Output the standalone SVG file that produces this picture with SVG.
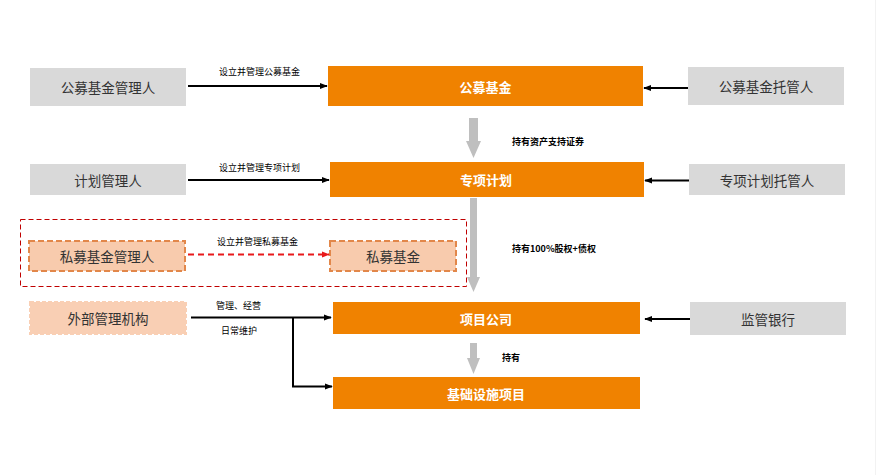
<svg xmlns="http://www.w3.org/2000/svg" width="880" height="475" viewBox="0 0 880 475">
<defs>
<style>
.gray{fill:#D9D9D9}
.org{fill:#F08200}
.peach{fill:#F8CBAD;stroke:#E2874A;stroke-width:2;stroke-dasharray:6 3}
.peach2{fill:#F9CFB4;stroke:#F9CFB4;stroke-width:2;stroke-dasharray:4 2}
.t{font-family:"Noto Sans CJK SC","Noto Sans",sans-serif;font-size:13.5px;fill:#333;text-anchor:middle;dominant-baseline:central}
.tw{font-family:"Noto Sans CJK SC","Noto Sans",sans-serif;font-size:13px;font-weight:bold;fill:#fff;text-anchor:middle;dominant-baseline:central}
.s{font-family:"Noto Sans CJK SC","Noto Sans",sans-serif;font-size:9px;fill:#000;dominant-baseline:central}
.sb{font-family:"Noto Sans CJK SC","Noto Sans",sans-serif;font-size:9px;font-weight:bold;fill:#000;dominant-baseline:central}
.ln{stroke:#000;stroke-width:2;fill:none}
.gar{fill:#BFBFBF}
</style>
<marker id="ah" viewBox="0 0 10 10" refX="9" refY="5" markerWidth="4" markerHeight="4" orient="auto"><path d="M0,1 L10,5 L0,9 Z" fill="#000"/></marker>
<marker id="ahr" viewBox="0 0 10 10" refX="9" refY="5" markerWidth="4" markerHeight="4" orient="auto"><path d="M0,1 L10,5 L0,9 Z" fill="#E8191B"/></marker>
</defs>
<rect width="880" height="475" fill="#fff"/>
<line x1="875.5" y1="0" x2="875.5" y2="475" stroke="#F2F2F2" stroke-width="1"/>

<rect x="20.5" y="219.5" width="446" height="67" fill="none" stroke="#C00000" stroke-width="1" stroke-dasharray="5 3"/>

<g id="gmjjglr"><rect class="gray" x="30" y="68" width="156" height="38"/><text class="t" x="108" y="87">公募基金管理人</text></g>
<g id="gmjj"><rect class="org" x="328" y="66" width="315" height="40"/><text class="tw" x="485.5" y="86">公募基金</text></g>
<g id="gmjjtgr"><rect class="gray" x="688" y="67" width="156" height="38"/><text class="t" x="766" y="86">公募基金托管人</text></g>

<g id="jhglr"><rect class="gray" x="30" y="164" width="156" height="31"/><text class="t" x="108" y="179.5">计划管理人</text></g>
<g id="zxjh"><rect class="org" x="330" y="162" width="314" height="35"/><text class="tw" x="486" y="179.5">专项计划</text></g>
<g id="zxjhtgr"><rect class="gray" x="689" y="164" width="156" height="31"/><text class="t" x="767" y="179.5">专项计划托管人</text></g>

<g id="smjjglr"><rect class="peach" x="29" y="241" width="156" height="30"/><text class="t" x="107" y="256">私募基金管理人</text></g>
<g id="smjj"><rect class="peach" x="330" y="241" width="126" height="30"/><text class="t" x="393" y="256">私募基金</text></g>

<g id="wbgljg"><rect class="peach2" x="30" y="302" width="156" height="32"/><text class="t" x="108" y="318">外部管理机构</text></g>
<g id="xmgs"><rect class="org" x="333" y="302" width="307" height="32"/><text class="tw" x="486" y="318">项目公司</text></g>
<g id="jgyh"><rect class="gray" x="690" y="302" width="156" height="33"/><text class="t" x="768" y="318.5">监管银行</text></g>

<g id="jcssxm"><rect class="org" x="333" y="377" width="307" height="32"/><text class="tw" x="486" y="393">基础设施项目</text></g>

<g id="connectors">
<line class="ln" x1="188" y1="86" x2="327" y2="86" marker-end="url(#ah)"/>
<line class="ln" x1="688" y1="88" x2="644" y2="88" marker-end="url(#ah)"/>
<line class="ln" x1="188" y1="180" x2="329" y2="180" marker-end="url(#ah)"/>
<line class="ln" x1="689" y1="180.5" x2="645" y2="180.5" marker-end="url(#ah)"/>
<line x1="188" y1="254.5" x2="329" y2="254.5" stroke="#E8191B" stroke-width="2" stroke-dasharray="6 4" marker-end="url(#ahr)"/>
<line class="ln" x1="191" y1="317.5" x2="331" y2="317.5" marker-end="url(#ah)"/>
<polyline class="ln" points="293,317.5 293,386.5 332,386.5" marker-end="url(#ah)"/>
<line class="ln" x1="690" y1="319" x2="645" y2="319" marker-end="url(#ah)"/>
<polygon class="gar" points="469,118 478,118 478,141 481,141 473.5,158 466,141 469,141"/>
<polygon class="gar" points="470,198 477,198 477,277 480,277 473.5,292 467,277 470,277"/>
<polygon class="gar" points="470,343 477,343 477,358 480,358 473.5,374 467,358 470,358"/>
<text class="s" x="219" y="71">设立并管理公募基金</text>
<text class="s" x="219" y="167.5">设立并管理专项计划</text>
<text class="s" x="217" y="241.5">设立并管理私募基金</text>
<text class="s" x="216" y="305">管理、经营</text>
<text class="s" x="221" y="330">日常维护</text>
<text class="sb" x="512" y="141">持有资产支持证券</text>
<text class="sb" x="512" y="248">持有100%股权+债权</text>
<text class="sb" x="502" y="357">持有</text>
</g>
</svg>
